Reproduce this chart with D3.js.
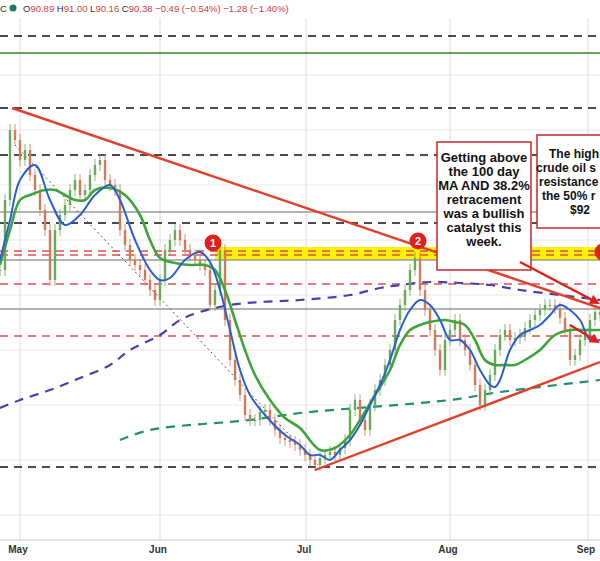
<!DOCTYPE html>
<html lang="en">
<head>
<meta charset="UTF-8">
<title>Crude oil daily</title>
<script src="https://d3js.org/d3.v7.min.js"></script>
<style>
  body { margin: 0; background: #fff; font-family: "Liberation Sans", Arial, sans-serif; }
  .note text { font-weight: bold; font-size: 13px; fill: #111; }
  .note.cut text { font-size: 12px; }
</style>
</head>
<body>
<div id="chart"></div>
<script>
// bar index (approx daily) and closes
const closes = [94.6,96.0,97.4,97.2,96.8,97.0,96.5,96.2,95.8,95.4,94.4,95.4,95.7,95.9,96.2,96.4,96.1,96.2,96.5,96.7,
  96.8,96.4,96.3,96.2,95.4,95.1,94.8,94.7,94.6,94.4,94.2,94.0,94.4,95.0,95.2,95.4,95.2,95.0,94.9,94.8,
  94.7,94.6,93.9,94.2,95.0,93.6,92.8,92.4,92.1,91.7,91.6,91.6,91.76,91.8,91.6,91.4,91.24,91.2,91.16,91.1,
  91.0,90.9,90.8,90.7,90.84,90.9,90.96,90.9,91.04,91.2,91.8,92.0,91.6,91.4,91.9,92.2,92.4,92.7,93.0,93.6,
  93.9,94.2,94.6,94.84,94.2,93.8,93.4,93.0,92.6,93.2,93.4,93.6,93.2,93.0,92.7,92.3,91.9,92.2,92.5,93.0,
  93.3,93.4,93.2,93.24,93.3,93.44,93.6,93.7,93.8,93.9,93.9,93.84,93.64,93.4,92.8,92.9,93.2,93.3,93.6,93.76,93.7];

const maFast = [[0,94.8],[2,95.6],[4,96.4],[7,96.7],[10,96.0],[13,95.5],[16,95.7],[19,96.1],[22,96.3],[24,96.0],[27,95.2],[30,94.6],[32,94.4],[34,94.44],[37,94.8],[40,94.96],[42,94.76],[44,94.2],[46,93.4],[48,92.6],[50,92.1],[53,91.7],[57,91.3],[60,91.1],[62,90.9],[64,90.9],[66,90.8],[68,91.0],[70,91.2],[72,91.5],[74,91.9],[76,92.3],[78,92.8],[80,93.4],[82,93.8],[84,94.0],[86,93.9],[88,93.6],[90,93.2],[92,93.2],[94,93.0],[96,92.6],[98,92.3],[99,92.26],[100,92.4],[102,93.0],[104,93.3],[106,93.4],[108,93.5],[110,93.7],[112,93.9],[114,93.8],[116,93.6],[118,93.2],[120,93.2]];
const maSlow = [[0,94.7],[2,95.4],[4,96.0],[6,96.1],[9,96.2],[11,96.2],[13,96.1],[15,96.0],[17,96.0],[19,96.2],[22,96.24],[25,96.1],[28,95.7],[30,95.2],[32,94.84],[35,94.74],[38,94.7],[41,94.7],[43,94.6],[45,94.2],[47,93.6],[49,93.0],[51,92.5],[54,92.0],[57,91.64],[60,91.44],[64,91.0],[67,91.04],[70,91.3],[72,91.6],[75,92.1],[78,92.6],[80,93.1],[82,93.4],[84,93.5],[86,93.56],[89,93.6],[91,93.56],[93,93.5],[95,93.2],[97,92.8],[99,92.7],[101,92.7],[103,92.7],[105,92.8],[108,93.0],[111,93.3],[114,93.4],[117,93.4],[120,93.4]];
const ma100 = [[0,91.84],[4,92.0],[10,92.2],[16,92.44],[22,92.7],[26,93.0],[32,93.3],[36,93.6],[40,93.76],[46,93.9],[52,93.96],[60,94.0],[70,94.1],[76,94.24],[80,94.3],[86,94.36],[92,94.34],[98,94.3],[104,94.2],[112,94.1],[120,94.0]];
const ma200 = [[24,91.2],[30,91.4],[50,91.6],[60,91.74],[90,92.0],[100,92.16],[120,92.4]];

const blackDashed = [99.28, 97.84, 96.9, 95.54, 90.66];
const greenLevel = [98.94];
const grayLevels = [95.76, 94.8, 93.82];
const redDashed = [94.98, 94.9, 94.32, 93.28];
const yellowBand = [95.06, 94.8];
const gridLevels = [98.5, 97.4, 96.3, 95.2, 94.1, 93.0, 91.9, 90.8, 89.7];

const trendTop = [[2.4, 97.84], [120, 93.84]];
const trendBottom = [[63, 90.6], [120, 92.76]];
const dottedLine = [[3, 97.1], [63.6, 90.7]];
const arrows = [[[104, 94.76], [119.6, 93.94]], [[114, 93.5], [119.6, 93.16]]];
const markers = [{i: 42.6, p: 95.14, t: "1"}, {i: 83.6, p: 95.18, t: "2"}, {i: 120.6, p: 94.96, t: ""}];

const months = [{i: 4, t: "May"}, {i: 32, t: "Jun"}, {i: 61.2, t: "Jul"}, {i: 90, t: "Aug"}, {i: 117.6, t: "Sep"}];

const note1 = ["Getting above", "the 100 day", "MA AND 38.2%", "retracement", "was a bullish", "catalyst this", "week."];
// second note is cut by the right edge in the picture: only the visible part is kept
const note2 = [{t: "The high", x: 549}, {t: "crude oil s", x: 536}, {t: "resistance", x: 539}, {t: "the 50% r", x: 542}, {t: "$92", x: 570}];

const W = 600, H = 561;
const x = d3.scaleLinear().domain([0, 120]).range([0, 600]);
const y = d3.scaleLinear().domain([89.2, 100]).range([540, 0]);

const svg = d3.select("#chart").append("svg").attr("width", W).attr("height", H);
svg.append("defs").append("marker").attr("id", "ah").attr("viewBox", "0 0 10 10")
  .attr("refX", 8).attr("refY", 5).attr("markerWidth", 4).attr("markerHeight", 4).attr("orient", "auto")
  .append("path").attr("d", "M0,0L10,5L0,10z").attr("fill", "#e0201c");

// grid
svg.selectAll(".hg").data(gridLevels).join("line")
  .attr("x1", 0).attr("x2", W).attr("y1", d => y(d)).attr("y2", d => y(d)).attr("stroke", "#e8e8e8");
svg.selectAll(".vg").data(months).join("line")
  .attr("x1", d => x(d.i)).attr("x2", d => x(d.i)).attr("y1", 18).attr("y2", 540).attr("stroke", "#dcdcdc");
svg.append("line").attr("x1", 0).attr("x2", W).attr("y1", 540).attr("y2", 540).attr("stroke", "#ccc");

// yellow zone
svg.append("rect").attr("x", x(43)).attr("width", W - x(43))
  .attr("y", y(yellowBand[0])).attr("height", y(yellowBand[1]) - y(yellowBand[0])).attr("fill", "#fff200");

const hline = (data, color, dash, w) => svg.append("g").selectAll("line").data(data).join("line")
  .attr("x1", 0).attr("x2", W).attr("y1", d => y(d)).attr("y2", d => y(d))
  .attr("stroke", color).attr("stroke-width", w).attr("stroke-dasharray", dash);
hline(grayLevels, "#9a9a9a", null, 1.5);
hline(blackDashed, "#111", "8,6", 1.6);
hline(greenLevel, "#2d8a2d", null, 1.5);
hline(redDashed, "#e05050", "8,6", 1.6);

// dotted trend
svg.append("line").attr("x1", x(dottedLine[0][0])).attr("y1", y(dottedLine[0][1]))
  .attr("x2", x(dottedLine[1][0])).attr("y2", y(dottedLine[1][1]))
  .attr("stroke", "#555").attr("stroke-dasharray", "2,3").attr("stroke-width", 1);

// moving averages
const line = d3.line().x(d => x(d[0])).y(d => y(d[1])).curve(d3.curveCatmullRom);
svg.append("path").attr("d", line(ma100)).attr("fill", "none").attr("stroke", "#4b3fb0").attr("stroke-width", 2.2).attr("stroke-dasharray", "9,7");
svg.append("path").attr("d", line(ma200)).attr("fill", "none").attr("stroke", "#1f9070").attr("stroke-width", 2.2).attr("stroke-dasharray", "9,7");

// candles
const candles = closes.map((c, i) => {
  const o = i ? closes[i - 1] : c;
  return {i, o, c, h: Math.max(o, c) + 0.12, l: Math.min(o, c) - 0.12};
});
const cg = svg.append("g");
cg.selectAll("line").data(candles).join("line")
  .attr("x1", d => x(d.i)).attr("x2", d => x(d.i)).attr("y1", d => y(d.h)).attr("y2", d => y(d.l))
  .attr("stroke", d => d.c >= d.o ? "#6aa85a" : "#d07a5a").attr("stroke-width", 0.8);
cg.selectAll("rect").data(candles).join("rect")
  .attr("x", d => x(d.i) - 1.2).attr("width", 2.4)
  .attr("y", d => y(Math.max(d.o, d.c))).attr("height", d => Math.max(1, Math.abs(y(d.o) - y(d.c))))
  .attr("fill", d => d.c >= d.o ? "#6aa85a" : "#d07a5a");

svg.append("path").attr("d", line(maSlow)).attr("fill", "none").attr("stroke", "#3ea53a").attr("stroke-width", 2.6);
svg.append("path").attr("d", line(maFast)).attr("fill", "none").attr("stroke", "#2a5fd0").attr("stroke-width", 2);

// red trend lines
[trendTop, trendBottom].forEach(t => svg.append("line")
  .attr("x1", x(t[0][0])).attr("y1", y(t[0][1])).attr("x2", x(t[1][0])).attr("y2", y(t[1][1]))
  .attr("stroke", "#e0402c").attr("stroke-width", 2.4));

// markers
const mg = svg.append("g").selectAll("g").data(markers).join("g")
  .attr("transform", d => `translate(${x(d.i)},${y(d.p)})`);
mg.append("circle").attr("r", 8.5).attr("fill", "#e0201c");
mg.append("text").text(d => d.t).attr("text-anchor", "middle").attr("dy", "0.35em")
  .attr("fill", "#fff").attr("font-size", 11).attr("font-weight", "bold");

// notes
const g1 = svg.append("g").attr("class", "note");
g1.append("rect").attr("x", 437).attr("y", 142).attr("width", 94).attr("height", 128)
  .attr("fill", "#fff").attr("stroke", "#c8282a").attr("stroke-width", 1.5);
g1.selectAll("text").data(note1).join("text").text(d => d)
  .attr("x", 484).attr("y", (d, i) => 162 + i * 14).attr("text-anchor", "middle");
const g2 = svg.append("g").attr("class", "note cut");
g2.append("rect").attr("x", 537).attr("y", 135).attr("width", 100).attr("height", 93)
  .attr("fill", "#fff").attr("stroke", "#c8282a").attr("stroke-width", 1.5);
g2.selectAll("text").data(note2).join("text").text(d => d.t)
  .attr("x", d => d.x).attr("y", (d, i) => 158 + i * 14);

// arrows
arrows.forEach(a => svg.append("line")
  .attr("x1", x(a[0][0])).attr("y1", y(a[0][1])).attr("x2", x(a[1][0])).attr("y2", y(a[1][1]))
  .attr("stroke", "#e0201c").attr("stroke-width", 2.5).attr("marker-end", "url(#ah)"));

// month labels
svg.selectAll(".ml").data(months).join("text").text(d => d.t)
  .attr("x", d => x(d.i) - 2).attr("y", 553).attr("text-anchor", "middle")
  .attr("font-size", 10).attr("font-weight", "bold").attr("fill", "#333");

// header
svg.append("rect").attr("width", W).attr("height", 17).attr("fill", "#fff");
svg.append("text").attr("x", 0).attr("y", 12).attr("font-size", 9.5).attr("fill", "#333").text("C");
svg.append("circle").attr("cx", 13).attr("cy", 8).attr("r", 3.5).attr("fill", "#1f7a55");
const hdr = svg.append("text").attr("x", 23).attr("y", 12).attr("font-size", 9.5).attr("fill", "#d04040");
[["O", "90.89"], ["H", "91.00"], ["L", "90.16"], ["C", "90.38"]].forEach(p => {
  hdr.append("tspan").attr("fill", "#333").text(p[0]);
  hdr.append("tspan").text(p[1] + " ");
});
hdr.append("tspan").text("−0.49 (−0.54%)  −1.28 (−1.40%)");
</script>
</body>
</html>
